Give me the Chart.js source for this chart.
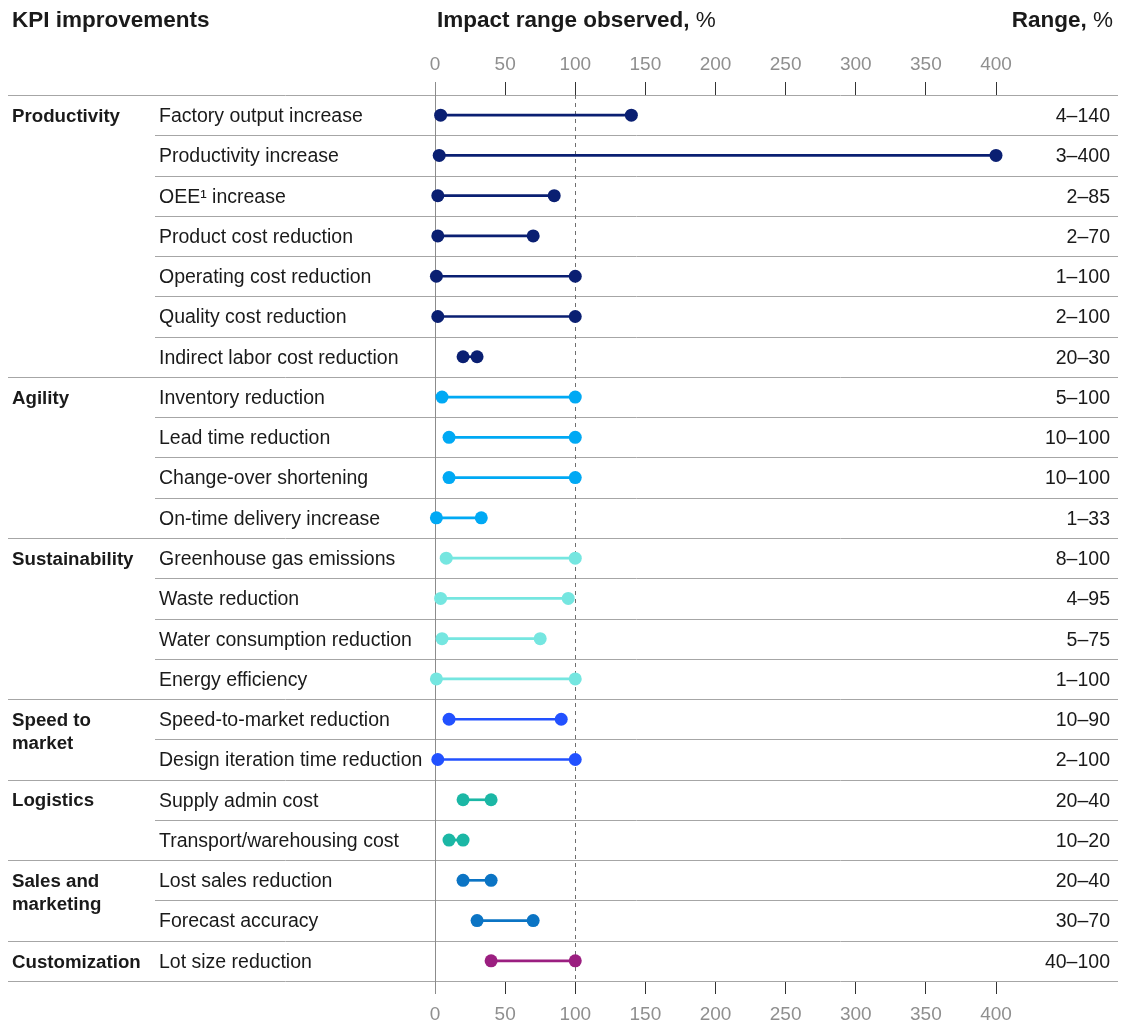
<!DOCTYPE html>
<html>
<head>
<meta charset="utf-8">
<script src="https://cdn.jsdelivr.net/npm/chart.js@4/dist/chart.umd.min.js"></script>
<style>
  html, body { margin: 0; padding: 0; background: #ffffff; }
  #wrap { width: 1125px; height: 1023px; }
</style>
</head>
<body>
<div id="wrap"><canvas id="kpi" width="1125" height="1023"></canvas></div>
<script>
// KPI groups, how many rows each one holds, and their colours
const groupNames = [['Productivity'], ['Agility'], ['Sustainability'], ['Speed to', 'market'], ['Logistics'], ['Sales and', 'marketing'], ['Customization']];
const groupSizes = [7, 4, 4, 2, 2, 2, 1];
const groupColors = ['#0a1f72', '#00a9f4', '#75e6e0', '#2251ff', '#1bb7a5', '#0b74c4', '#9b1f80'];

// KPI rows, top to bottom
const kpiLabels = [
  'Factory output increase', 'Productivity increase', 'OEE\u00b9 increase', 'Product cost reduction',
  'Operating cost reduction', 'Quality cost reduction', 'Indirect labor cost reduction',
  'Inventory reduction', 'Lead time reduction', 'Change-over shortening', 'On-time delivery increase',
  'Greenhouse gas emissions', 'Waste reduction', 'Water consumption reduction', 'Energy efficiency',
  'Speed-to-market reduction', 'Design iteration time reduction',
  'Supply admin cost', 'Transport/warehousing cost',
  'Lost sales reduction', 'Forecast accuracy',
  'Lot size reduction'
];
// Observed impact range, %
const lowValues  = [4, 3, 2, 2, 1, 2, 20, 5, 10, 10, 1, 8, 4, 5, 1, 10, 2, 20, 10, 20, 30, 40];
const highValues = [140, 400, 85, 70, 100, 100, 30, 100, 100, 100, 33, 100, 95, 75, 100, 90, 100, 40, 20, 40, 70, 100];

// Impact axis
const axisMin = 0;
const axisMax = 400;
const axisStep = 50;
const referenceValue = 100;

// colour of every row from its group
const rowColors = [];
groupSizes.forEach((n, g) => { for (let i = 0; i < n; i++) rowColors.push(groupColors[g]); });

const TEXT = '#1a1a1a';
const TICK_TEXT = '#8f8f8f';
const RULE = '#a6a6a6';
const SANS = '"Liberation Sans", Arial, sans-serif';
const TEXT_NUDGE = 1.5;

const tablePlugin = {
  id: 'kpiTable',
  beforeDatasetsDraw(chart) {
    const { ctx, chartArea: a, scales: { x } } = chart;
    const rowH = (a.bottom - a.top) / kpiLabels.length;
    ctx.save();
    ctx.lineWidth = 1;
    ctx.strokeStyle = RULE;
    // horizontal rules: full width at group boundaries, indented inside a group
    const groupStarts = new Set();
    let acc = 0;
    groupSizes.forEach(n => { groupStarts.add(acc); acc += n; });
    for (let i = 0; i <= kpiLabels.length; i++) {
      const yy = Math.round(a.top + i * rowH) + 0.5;
      const x0 = (groupStarts.has(i) || i === kpiLabels.length) ? 8 : 155;
      ctx.beginPath();
      ctx.moveTo(x0, yy);
      ctx.lineTo(1118, yy);
      ctx.stroke();
    }
    // zero line
    const x0 = Math.round(x.getPixelForValue(axisMin)) + 0.5;
    ctx.strokeStyle = '#8c8c8c';
    ctx.beginPath();
    ctx.moveTo(x0, a.top - 13);
    ctx.lineTo(x0, a.bottom + 13);
    ctx.stroke();
    // dashed 100% reference
    const xr = Math.round(x.getPixelForValue(referenceValue)) + 0.5;
    ctx.strokeStyle = '#6e6e6e';
    ctx.setLineDash([4, 4]);
    ctx.beginPath();
    ctx.moveTo(xr, a.top);
    ctx.lineTo(xr, a.bottom);
    ctx.stroke();
    ctx.restore();
  },
  afterDraw(chart) {
    const { ctx, scales: { y } } = chart;
    ctx.save();
    ctx.textBaseline = 'middle';
    ctx.fillStyle = TEXT;

    // column headers
    const hy = 21;
    ctx.textAlign = 'left';
    ctx.font = 'bold 22.5px ' + SANS;
    ctx.fillText('KPI improvements', 12, hy);
    const h2 = 'Impact range observed, ';
    ctx.fillText(h2, 437, hy);
    const w2 = ctx.measureText(h2).width;
    ctx.font = '22.5px ' + SANS;
    ctx.fillText('%', 437 + w2, hy);
    ctx.textAlign = 'right';
    const pctW = ctx.measureText('%').width;
    ctx.fillText('%', 1113, hy);
    ctx.font = 'bold 22.5px ' + SANS;
    ctx.fillText('Range, ', 1113 - pctW, hy);

    // group names
    ctx.textAlign = 'left';
    ctx.font = 'bold 18.7px ' + SANS;
    let row = 0;
    groupNames.forEach((lines, g) => {
      const yc = y.getPixelForValue(row) + TEXT_NUDGE;
      lines.forEach((t, k) => ctx.fillText(t, 12, yc + k * 23));
      row += groupSizes[g];
    });

    // KPI names and range labels
    ctx.font = '19.5px ' + SANS;
    kpiLabels.forEach((lab, i) => {
      const yc = y.getPixelForValue(i) + TEXT_NUDGE;
      ctx.textAlign = 'left';
      ctx.fillText(lab, 159, yc);
      ctx.textAlign = 'right';
      ctx.fillText(lowValues[i] + '\u2013' + highValues[i], 1110, yc);
    });
    ctx.restore();
  }
};

const tickFont = { family: SANS, size: 19 };
const makeX = (position, height, pad) => ({
  type: 'linear',
  position,
  min: axisMin,
  max: axisMax,
  ticks: { stepSize: axisStep, color: TICK_TEXT, font: tickFont, padding: pad },
  grid: {
    drawOnChartArea: false,
    drawTicks: true,
    tickLength: 13,
    color: c => (c.tick && c.tick.value === axisMin) ? 'rgba(0,0,0,0)' : '#333333',
    lineWidth: 1
  },
  border: { display: false },
  afterFit(scale) { scale.height = height; }
});

const pointSet = values => ({
  type: 'line',
  indexAxis: 'y',
  data: values,
  showLine: false,
  clip: false,
  pointRadius: 6.5,
  pointHoverRadius: 6.5,
  pointBorderWidth: 0,
  pointBackgroundColor: rowColors,
  order: 1
});

new Chart(document.getElementById('kpi'), {
  data: {
    labels: kpiLabels,
    datasets: [
      pointSet(lowValues),
      pointSet(highValues),
      {
        type: 'bar',
        indexAxis: 'y',
        data: lowValues.map((v, i) => [v, highValues[i]]),
        backgroundColor: rowColors,
        barThickness: 2,
        borderSkipped: false,
        clip: false,
        order: 2
      }
    ]
  },
  options: {
    responsive: false,
    animation: false,
    indexAxis: 'y',
    layout: { padding: { left: 435, right: 129, top: 0, bottom: 0 } },
    plugins: { legend: { display: false }, tooltip: { enabled: false } },
    scales: {
      y: { type: 'category', display: false, offset: true, grid: { display: false } },
      x: makeX('bottom', 42, 9),
      x2: makeX('top', 95, 6)
    }
  },
  plugins: [tablePlugin]
});
</script>
</body>
</html>
